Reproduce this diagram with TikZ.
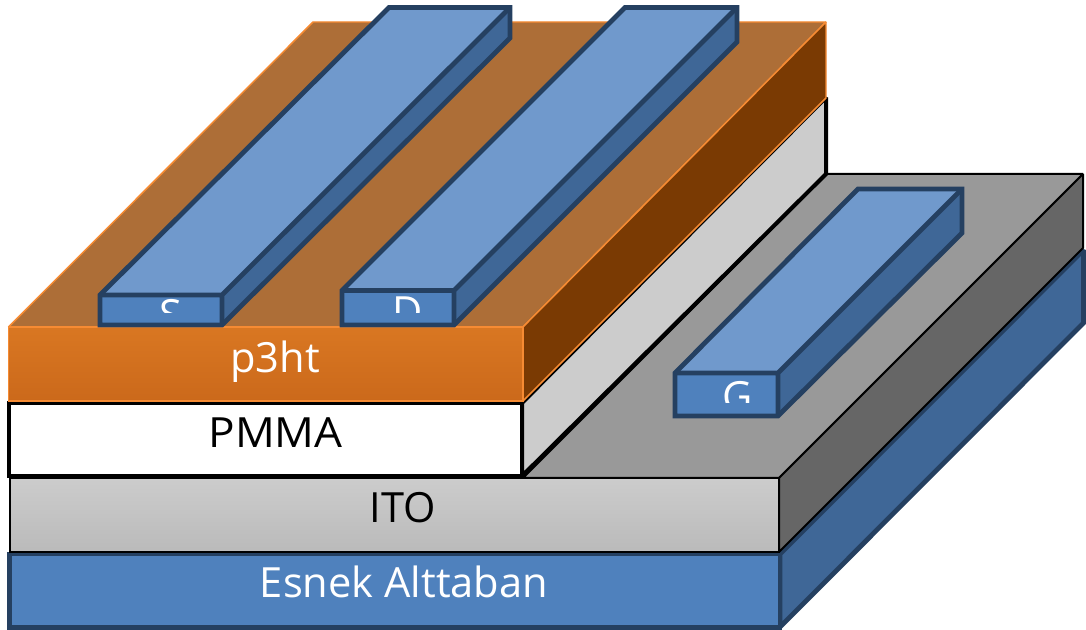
\documentclass[tikz,border=0pt]{standalone}
\usepackage{fontspec}
\setmainfont{Open Sans}
\definecolor{bluefront}{HTML}{4F81BD}
\definecolor{bluetop}{HTML}{7099CC}
\definecolor{blueside}{HTML}{3F6797}
\definecolor{bluedark}{HTML}{254061}
\definecolor{orline}{HTML}{F68B33}
\definecolor{ortop}{HTML}{AD6E37}
\definecolor{orside}{HTML}{7A3A03}
\definecolor{orfronta}{HTML}{D97722}
\definecolor{orfrontb}{HTML}{CB691B}
\tikzset{
  x=0.75pt,y=-0.75pt,
  basepart/.style={draw=bluedark,line width=3.6pt,line join=miter,miter limit=2},
  elec/.style={draw=bluedark,line width=3.6pt,line join=miter,miter limit=2},
  ito/.style={draw=black,line width=1.5pt,line join=miter,miter limit=2},
  pmma/.style={draw=black,line width=3pt,line join=miter,miter limit=2},
  pht/.style={draw=orline,line width=1.1pt,line join=miter,miter limit=2},
  lab/.style={font=\fontsize{31.2}{31.2}\selectfont,inner sep=0pt,anchor=base},
}
\begin{document}
\begin{tikzpicture}
\useasboundingbox (0,0) rectangle (1086,630);
% substrate
\draw[basepart,fill=blueside] (780,554)--(1083.5,250)--(1083.5,323)--(780,627)--cycle;
\draw[basepart,fill=bluefront] (9.5,554) rectangle (780,627.5);
\node[lab,text=white] (substrate) at (404,598) {Esnek Alttaban};
% ITO
\draw[ito,fill=black!40] (523,478)--(827,174)--(1083,174)--(779,478)--cycle;
\draw[ito,fill=black!60] (779,478)--(1083,174)--(1083,248)--(779,552)--cycle;
\draw[ito,top color=black!20,bottom color=black!27] (9.5,478) rectangle (779,552);
\node[lab,text=black] (itolabel) at (403,523) {ITO};
% PMMA
\draw[pmma,fill=black!20] (522,403)--(826,97.5)--(826,174)--(522,476)--cycle;
\draw[pmma,fill=white] (8.5,403) rectangle (522,476);
\node[lab,text=black,xscale=1.06] (pmmalabel) at (275.5,448) {PMMA};
% P3HT
\draw[pht,fill=ortop] (8.5,327)--(313,22)--(826,22)--(523,327)--cycle;
\draw[pht,fill=orside] (523,327)--(826,22)--(826,98)--(523,401)--cycle;
\draw[pht,top color=orfronta,bottom color=orfrontb] (8.5,327) rectangle (523,401);
\node[lab,text=white] (phtlabel) at (275,373) {p3ht};
% S electrode
\fill[blueside] (222,295)--(510,7.5)--(510,38)--(222,325)--cycle;
\fill[bluetop] (100,295)--(389,7.5)--(510,7.5)--(222,295)--cycle;
\fill[bluefront] (100,295) rectangle (222,325);
\begin{scope}
\clip (100,295) rectangle (222,313);
\node[lab,text=white] (slabel) at (171,330) {S};
\end{scope}
\draw[elec] (100,295)--(222,295)--(510,7.5) (222,295)--(222,325);
\draw[elec] (100,295)--(389,7.5)--(510,7.5)--(510,38)--(222,325)--(100,325)--cycle;
% D electrode
\fill[blueside] (454,290.5)--(737,7.5)--(737,42)--(454,325)--cycle;
\fill[bluetop] (342,290.5)--(625,7.5)--(737,7.5)--(454,290.5)--cycle;
\fill[bluefront] (342,290.5) rectangle (454,325);
\begin{scope}
\clip (342,290) rectangle (454,313);
\node[lab,text=white] (dlabel) at (408,327) {D};
\end{scope}
\draw[elec] (342,290.5)--(454,290.5)--(737,7.5) (454,290.5)--(454,325);
\draw[elec] (342,290.5)--(625,7.5)--(737,7.5)--(737,42)--(454,325)--(342,325)--cycle;
% G electrode
\fill[blueside] (778,373)--(962,189)--(962,233)--(778,417)--cycle;
\fill[bluetop] (675,373)--(858,189)--(962,189)--(778,373)--cycle;
\fill[bluefront] (675,373) rectangle (778,416);
\begin{scope}
\clip (675,373) rectangle (778,403);
\node[lab,text=white] (glabel) at (738,412) {G};
\end{scope}
\draw[elec] (675,373)--(778,373)--(962,189) (778,373)--(778,416);
\draw[elec] (675,373)--(858,189)--(962,189)--(962,233)--(778,416)--(675,416)--cycle;
\end{tikzpicture}
\end{document}
